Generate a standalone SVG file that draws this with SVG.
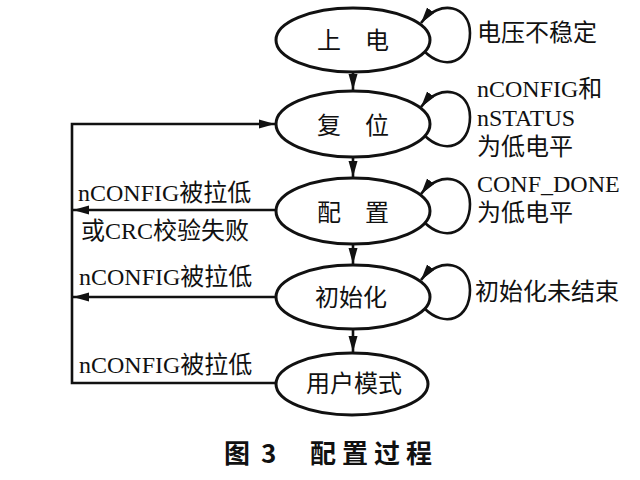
<svg xmlns="http://www.w3.org/2000/svg" width="640" height="480" viewBox="0 0 640 480">
<style>
.node ellipse{fill:#fff;stroke:#111;stroke-width:3}
.lbl{font-family:"Liberation Serif","Noto Sans CJK SC",serif;font-size:24px;fill:#111}
.nlbl{font-family:"Noto Sans CJK SC","Liberation Serif",sans-serif;font-size:24px;fill:#111;text-anchor:middle}
.edge{fill:none;stroke:#111;stroke-width:2.6}
.cap{font-family:"Noto Sans CJK SC",sans-serif;font-size:26px;font-weight:bold;fill:#111}
</style>
<defs>
<marker id="ah" markerUnits="userSpaceOnUse" markerWidth="17" markerHeight="10" refX="16" refY="5" orient="auto">
<path d="M0,0.5 L16,5 L0,9.5 z" fill="#111"/>
</marker>
</defs>
<rect width="640" height="480" fill="#fff"/>
<g id="connectors">
<path class="edge" d="M353 72 V90" marker-end="url(#ah)"/>
<path class="edge" d="M353 157 V177" marker-end="url(#ah)"/>
<path class="edge" d="M353 244 V264" marker-end="url(#ah)"/>
<path class="edge" d="M353 329 V352" marker-end="url(#ah)"/>
<path class="edge" d="M277 383 H72 V124 H275" marker-end="url(#ah)"/>
<path class="edge" d="M277 210 H73" marker-end="url(#ah)"/>
<path class="edge" d="M277 297 H73" marker-end="url(#ah)"/>
<g transform="translate(0,40)"><path class="edge" d="M424 11 C445 32,470 22,470 -7 C470 -34,440 -42,421 -17" marker-end="url(#ah)"/></g>
<g transform="translate(0,124)"><path class="edge" d="M424 11 C445 32,470 22,470 -7 C470 -34,440 -42,421 -17" marker-end="url(#ah)"/></g>
<g transform="translate(0,211)"><path class="edge" d="M424 11 C445 32,470 22,470 -7 C470 -34,440 -42,421 -17" marker-end="url(#ah)"/></g>
<g transform="translate(0,297)"><path class="edge" d="M424 11 C445 32,470 22,470 -7 C470 -34,440 -42,421 -17" marker-end="url(#ah)"/></g>
</g>
<g id="n1" class="node"><ellipse cx="353" cy="40" rx="77" ry="32"/><text class="nlbl" x="353" y="49">上　电</text></g>
<g id="n2" class="node"><ellipse cx="353" cy="124" rx="77" ry="33"/><text class="nlbl" x="353" y="134">复　位</text></g>
<g id="n3" class="node"><ellipse cx="353" cy="211" rx="77" ry="33"/><text class="nlbl" x="353" y="221">配　置</text></g>
<g id="n4" class="node"><ellipse cx="353" cy="297" rx="77" ry="32"/><text class="nlbl" x="351" y="306">初始化</text></g>
<g id="n5" class="node"><ellipse cx="352" cy="384" rx="76" ry="31"/><text class="nlbl" x="354" y="392">用户模式</text></g>
<g id="labels">
<text class="lbl" x="477" y="41">电压不稳定</text>
<text class="lbl" x="477" y="97">nCONFIG和</text>
<text class="lbl" x="477" y="126">nSTATUS</text>
<text class="lbl" x="477" y="155">为低电平</text>
<text class="lbl" x="477" y="192">CONF_DONE</text>
<text class="lbl" x="477" y="221">为低电平</text>
<text class="lbl" x="475" y="300">初始化未结束</text>
<text class="lbl" x="78" y="201">nCONFIG被拉低</text>
<text class="lbl" x="81" y="239">或CRC校验失败</text>
<text class="lbl" x="79" y="285">nCONFIG被拉低</text>
<text class="lbl" x="79" y="373">nCONFIG被拉低</text>
</g>
<text class="cap" y="463"><tspan x="224">图</tspan><tspan x="261">3</tspan><tspan x="310" letter-spacing="6">配置过程</tspan></text>
</svg>
